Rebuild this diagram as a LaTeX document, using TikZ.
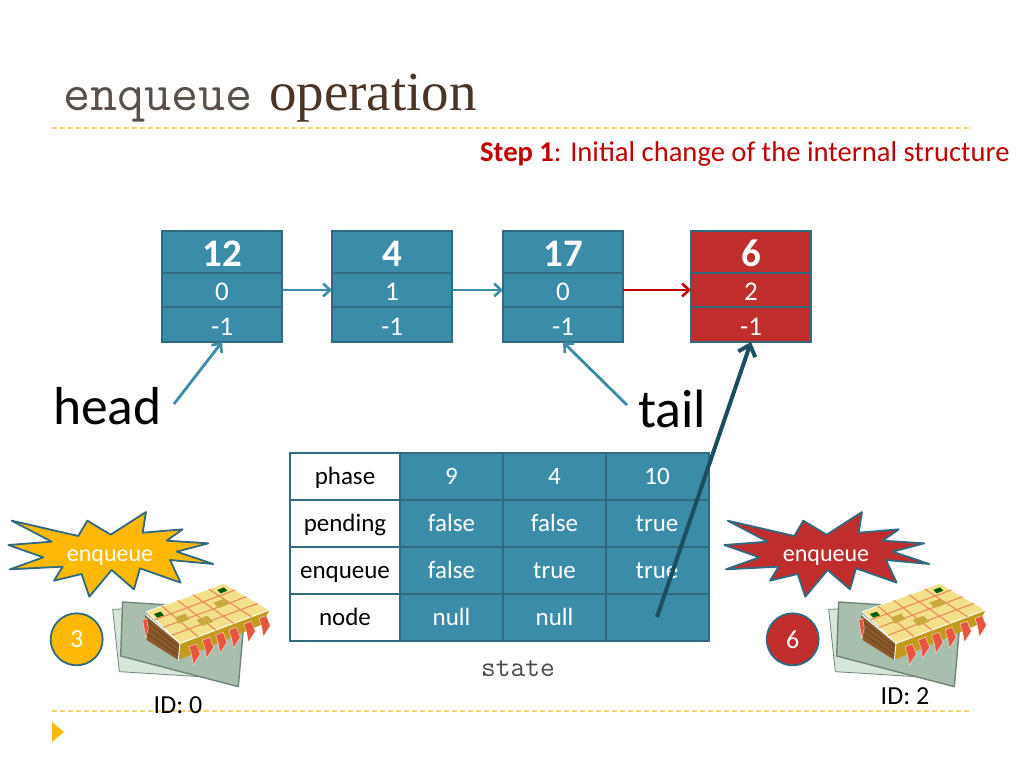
\documentclass[tikz,border=0pt]{standalone}
\usepackage{fontspec}
\setmainfont{Carlito}
\newfontfamily\serf{Liberation Serif}
\usetikzlibrary{arrows.meta}
\definecolor{teal1}{HTML}{3A8CA8}
\definecolor{edge1}{HTML}{31697F}
\definecolor{red1}{HTML}{C02D2D}
\definecolor{gold1}{HTML}{FDB906}
\definecolor{rule1}{HTML}{F2D56B}
\definecolor{dark1}{HTML}{1B4F5E}
\definecolor{paperA}{HTML}{D6E6D8}
\definecolor{paperB}{HTML}{A9BFAE}
\definecolor{paperE}{HTML}{6F8578}
\definecolor{chipT}{HTML}{F3E08A}
\definecolor{chipL}{HTML}{E98A5A}
\definecolor{chipP}{HTML}{C9A93E}
\definecolor{chipS}{HTML}{8A5A2B}
\definecolor{chipG}{HTML}{C49A1C}
\definecolor{pinc}{HTML}{E8553F}
\definecolor{titleA}{HTML}{5A504A}
\definecolor{titleB}{HTML}{4A3526}
\newcommand{\fs}[1]{\fontsize{#1}{#1}\selectfont}
\tikzset{
 cellbase/.style={draw=edge1,line width=2pt,inner sep=0pt,outer sep=0pt,text=white,anchor=center},
 tcell/.style={cellbase,fill=teal1,minimum width=103pt,minimum height=47pt,text height=19pt,text depth=3pt,font=\fs{25}},
 lcell/.style={cellbase,fill=white,text=black,minimum width=110pt,minimum height=47pt,text height=19pt,text depth=3pt,font=\fs{25}},
 big/.style={cellbase,minimum width=120pt,minimum height=42pt,text height=28pt,text depth=0pt,font=\bfseries\fs{39}},
 mid/.style={cellbase,minimum width=120pt,minimum height=35pt,text height=21pt,text depth=0pt,font=\fs{27}},
 link/.style={line width=2.8pt,color=teal1,-{Straight Barb[length=7pt,width=13pt,line width=2.6pt]}},
 rlink/.style={line width=2.8pt,color=red!75!black,-{Straight Barb[length=7pt,width=13pt,line width=2.6pt]}},
 thick1/.style={line width=4pt,color=dark1,-{Straight Barb[length=10pt,width=18pt,line width=4pt]}},
 rulel/.style={color=rule1,line width=1.3pt,dash pattern=on 5pt off 3pt},
 pin/.style={fill=pinc,draw=white,line width=.3pt},
}
\newcommand{\actor}[4]{%
\begin{scope}[xshift=#1pt,yshift=-500pt,x=.3333pt,y=-.3333pt]
 \fill[#2,draw=edge1,line width=1.8pt,line join=round] (35,62)--(235,108)--(262,62)--(332,104)--(438,36)--(428,98)--(548,88)--(500,122)--(625,130)--(530,155)--(640,192)--(510,180)--(542,248)--(420,205)--(402,268)--(335,210)--(268,290)--(245,222)--(162,242)--(188,200)--(30,208)--(130,172)--(25,135)--(155,125)--cycle;
 \node[text=white,font=\fs{24}] (#4lab) at (330,174) {enqueue};
 \node[circle,draw=edge1,line width=1.8pt,fill=#2,minimum size=52pt,inner sep=0pt,text=white,font=\fs{26}] (#4circ) at (230,418) {#3};
 % papers
 \fill[paperA,draw=paperE,line width=.8pt] (338,328)--(500,322)--(600,530)--(358,515)--cycle;
 \fill[paperB,draw=paperE,line width=1.4pt] (368,306)--(735,330)--(715,560)--(362,468)--cycle;
 % chip sides
 \fill[chipS] (435,345)--(540,430)--(535,480)--(440,420)--cycle;
 \draw[black!50!brown,line width=.6pt] (437,362)--(538,442) (438,380)--(537,455) (439,400)--(536,468);
 \fill[chipG] (540,430)--(808,330)--(790,372)--(535,480)--cycle;
 \draw[white,line width=.9pt] (438,345)--(540,430)--(808,330) (540,430)--(535,480);
 % pins
 \foreach \px/\py in {575/440,615/420,655/405,695/390,740/372,785/355}{
  \fill[pin] (\px-8,\py)--(\px+14,\py-8)--(\px+26,\py+22)--(\px+5,\py+55)--(\px+0,\py+25)--cycle;
 }
 \fill[pin] (428,360)--(440,355)--(445,385)--(438,415)--cycle;
 % chip top
 \fill[chipT,draw=white,line width=.8pt] (440,335)--(672,250)--(808,330)--(540,430)--cycle;
 \draw[chipL,line width=1.1pt] (465,359)--(706,270) (490,382)--(740,290) (515,406)--(774,310)
   (486,318)--(594,410) (533,301)--(647,390) (579,284)--(701,370) (626,267)--(754,350);
 \fill[chipP] (525,352)--(556,341)--(568,358)--(535,371)--cycle (590,360)--(622,347)--(640,365)--(606,378)--cycle (640,308)--(672,296)--(688,312)--(656,324)--cycle;
 \fill[green!35!black] (462,342)--(482,335)--(492,346)--(472,353)--cycle (652,270)--(672,262)--(682,272)--(662,280)--cycle;
\end{scope}}
\begin{document}
\begin{tikzpicture}[x=1pt,y=-1pt]
\useasboundingbox (0,0) rectangle (1024,768);
\fill[white] (0,0) rectangle (1024,768);
% title
\node[anchor=base west,inner sep=0pt,text=titleA,font=\ttfamily\fs{52.5}] (t1) at (63,110) {enqueue};
\node[anchor=base west,inner sep=0pt,text=titleB,font=\serf\fs{55}] (t2) at (269,110) {operation};
\coordinate (r1a) at (52,128); \coordinate (r1b) at (972,128);
\coordinate (r2a) at (52,711); \coordinate (r2b) at (972,711);
\draw[rulel] (r1a)--(r1b);
\draw[rulel] (r2a)--(r2b);
\fill[gold1] (52,722)--(64,732)--(52,742)--cycle;
\node[anchor=base west,inner sep=0pt,text=red!75!black,font=\fs{28.6}] (st) at (480,161) {\textbf{Step 1}: Initial change of the internal structure};
% linked nodes
\foreach \n/\x/\a/\b/\fillc in {a/222/12/0/teal1,b/392/4/1/teal1,c/563/17/0/teal1,d/751/6/2/red1}{
 \node[big,fill=\fillc] (\n1) at (\x,252) {\a};
 \node[mid,fill=\fillc] (\n2) at (\x,290) {\b};
 \node[mid,fill=\fillc] (\n3) at (\x,324.5) {-1};
}
\draw[link] (a2)--(b2);
\draw[link] (b2)--(c2);
\draw[rlink] (c2)--(d2);
\node[anchor=base west,inner sep=0pt,font=\fs{53.5}] (head) at (53,424) {head};
\node[anchor=base west,inner sep=0pt,font=\fs{54}] (tail) at (638,427) {tail};
\coordinate (hs) at (174,404);
\coordinate (ts) at (627,405);
\draw[link] (hs)--(a3.south);
\draw[link] (ts)--(c3.south);
% table
\foreach \y/\lab/\u/\v/\w/\nm in {476/phase/9/4/10/p,523/pending/false/false/true/q,570/enqueue/false/true/true/r,617/node/null/null//s}{
 \node[lcell] (\nm0) at (345,\y) {\lab};
 \node[tcell] (\nm1) at (451.5,\y) {\u};
 \node[tcell] (\nm2) at (554.5,\y) {\v};
 \node[tcell] (\nm3) at (657,\y) {\w};
}
\node[anchor=base,inner sep=0pt,text=black!70,font=\ttfamily\fs{28.6}] (state) at (518,676) {state};
\draw[thick1] (s3.center)--(d3.south);
% actors
\actor{0}{gold1}{3}{L}
\actor{716}{red1}{6}{R}
\node[anchor=base,inner sep=0pt,font=\fs{26}] (id0) at (178,713) {ID: 0};
\node[anchor=base,inner sep=0pt,font=\fs{26}] (id2) at (905,704) {ID: 2};
\end{tikzpicture}
\end{document}
